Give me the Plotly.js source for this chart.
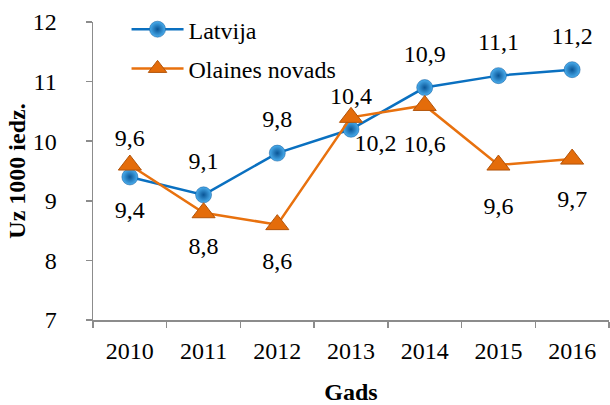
<!DOCTYPE html>
<html><head><meta charset="utf-8">
<script src="https://cdn.plot.ly/plotly-3.0.1.min.js"></script>
<style>body{margin:0}#c{width:610px;height:405px}</style>
</head><body><div id="c"></div>
<script>
const years = ['2010','2011','2012','2013','2014','2015','2016'];
const latvija = [9.4, 9.1, 9.8, 10.2, 10.9, 11.1, 11.2];
const olaines = [9.6, 8.8, 8.6, 10.4, 10.6, 9.6, 9.7];
const latvijaPos = ['bottom center','top center','top center','bottom right','top center','top center','top center'];
const olainesPos = ['top center','bottom center','bottom center','top center','bottom center','bottom center','bottom center'];
// invisible spacer sizes controlling label distance from points (styling only)
const latvijaLabelGap = [35, 30, 30, 4, 30, 30, 30];
const olainesLabelGap = [20, 36, 41, 10, 44, 48, 46];
const fmt = v => v.toFixed(1).replace('.', ',');
const FAM = 'Liberation Serif';
const SZ = 24;
const f = () => ({family: FAM, color: '#000', size: SZ});

const traces = [
  {x: years, y: latvija, name: 'Latvija', legendgroup: 'a', type: 'scatter', mode: 'lines+markers',
   line: {color: '#0A70C0', width: 2.5},
   marker: {symbol: 'circle', size: 16, color: '#4AAEEE', gradient: {type: 'radial', color: '#0A5596'},
            line: {color: '#0A5596', width: 0.5}}},
  {x: years, y: olaines, name: 'Olaines novads', legendgroup: 'b', type: 'scatter', mode: 'lines+markers',
   line: {color: '#E8710E', width: 2.5},
   marker: {symbol: 'triangle-up', size: 20, color: '#E46C0A', line: {color: '#B2540A', width: 1}}},
  {x: years, y: latvija, type: 'scatter', mode: 'markers+text', showlegend: false, hoverinfo: 'skip',
   text: latvija.map(fmt), textposition: latvijaPos, textfont: f(),
   marker: {size: latvijaLabelGap, opacity: 0, color: '#0A70C0'}},
  {x: years, y: olaines, type: 'scatter', mode: 'markers+text', showlegend: false, hoverinfo: 'skip',
   text: olaines.map(fmt), textposition: olainesPos, textfont: f(),
   marker: {size: olainesLabelGap, opacity: 0, color: '#E46C0A'}}
];

const layout = {
  width: 610, height: 405,
  margin: {l: 93, r: 1, t: 22, b: 85},
  paper_bgcolor: '#fff', plot_bgcolor: '#fff',
  font: f(),
  showlegend: true,
  legend: {x: 0.065, y: 1.05, xanchor: 'left', yanchor: 'top', font: f(), itemwidth: 52,
           bgcolor: 'rgba(0,0,0,0)', tracegroupgap: 5},
  xaxis: {type: 'category', showgrid: false, zeroline: false, showline: true, linecolor: '#8c8c8c', linewidth: 1.5,
          ticks: 'outside', tickson: 'boundaries', ticklen: 6, tickcolor: '#8c8c8c', tickwidth: 1.5,
          tickfont: f(), ticklabelstandoff: 9, range: [-0.5, 6.5],
          title: {text: '<b>Gads</b>', font: f(), standoff: 20}},
  yaxis: {range: [7, 12], dtick: 1, showgrid: false, zeroline: false, showline: true, linecolor: '#8c8c8c', linewidth: 1.5,
          ticks: 'outside', ticklen: 6, tickcolor: '#8c8c8c', tickwidth: 1.5,
          tickfont: f(), ticklabelstandoff: 24,
          title: {text: '<b>Uz 1000 iedz.</b>', font: f(), standoff: 0}}
};
Plotly.newPlot('c', traces, layout, {displayModeBar: false, staticPlot: true});
</script></body></html>
